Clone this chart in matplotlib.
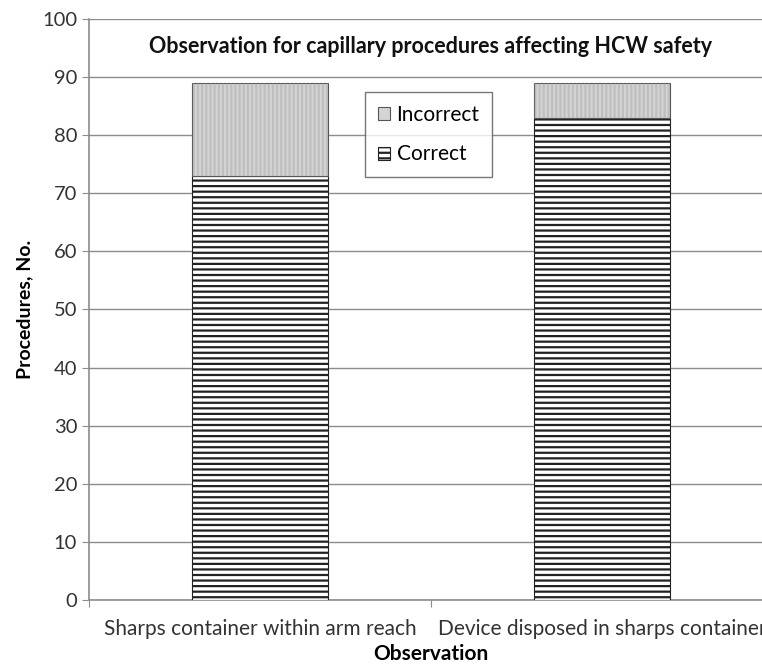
import matplotlib
matplotlib.use('Agg')
import matplotlib.pyplot as plt
import numpy as np

plt.rcParams['font.family'] = ['Lato', 'DejaVu Sans']
plt.rcParams['hatch.linewidth'] = 1.6

categories = ['Sharps container within arm reach', 'Device disposed in sharps container']
correct = [73, 83]
incorrect = [16, 6]

fig = plt.figure(figsize=(7.62, 6.71), dpi=100)
ax = fig.add_axes([0.1168, 0.1058, 0.8976, 0.8659])

x = np.arange(len(categories))
ax.bar(x, correct, width=0.4, color='white', edgecolor='#222222', hatch='---',
       linewidth=0.8, label='Correct', zorder=3)
ax.bar(x, incorrect, width=0.4, bottom=correct, color='#d4d4d4', edgecolor='#555555',
       linewidth=0.8, label='Incorrect', zorder=3)
# faint vertical texture on incorrect segment
ax.bar(x, incorrect, width=0.4, bottom=correct, color='none', edgecolor='#999999',
       hatch='||||', linewidth=0, zorder=3.5, alpha=0.35)

ax.set_xlim(-0.5, 1.5)
ax.set_ylim(0, 100)
ax.set_yticks(range(0, 101, 10))
ax.yaxis.grid(True, color='#8c8c8c', linewidth=1.0)
ax.set_axisbelow(True)
ax.set_xticks([-0.5, 0.5, 1.5])
ax.set_xticklabels([])
ax.set_xticks(x, minor=True)
ax.set_xticklabels(categories, minor=True, fontsize=15, color='#333333')
ax.tick_params(axis='x', which='minor', length=0, pad=14)
ax.tick_params(axis='x', which='major', length=5, color='#8c8c8c')
ax.tick_params(axis='y', length=5, color='#8c8c8c', labelsize=14.5, labelcolor='#333333')

for side in ['top', 'right']:
    ax.spines[side].set_visible(False)
for side in ['left', 'bottom']:
    ax.spines[side].set_color('#8c8c8c')
    ax.spines[side].set_linewidth(1.2)

ax.set_xlabel('Observation', fontsize=15, fontweight='bold', labelpad=3)
ax.set_ylabel('Procedures, No.', fontsize=14, fontweight='bold', labelpad=6)
ax.text(0.5, 95.2, 'Observation for capillary procedures affecting HCW safety',
        ha='center', va='center', fontsize=15.5, fontweight='bold', color='#111111')

h, l = ax.get_legend_handles_labels()
leg = ax.legend(h[::-1], l[::-1], loc='upper left',
                bbox_to_anchor=(0.404, 0.874), borderaxespad=0, fontsize=15,
                frameon=True, fancybox=False, edgecolor='#555555',
                handlelength=0.6, handleheight=0.6, handletextpad=0.3,
                labelspacing=0.95, borderpad=0.6)
leg.get_frame().set_linewidth(1.0)

fig.savefig('out.png', dpi=100)
